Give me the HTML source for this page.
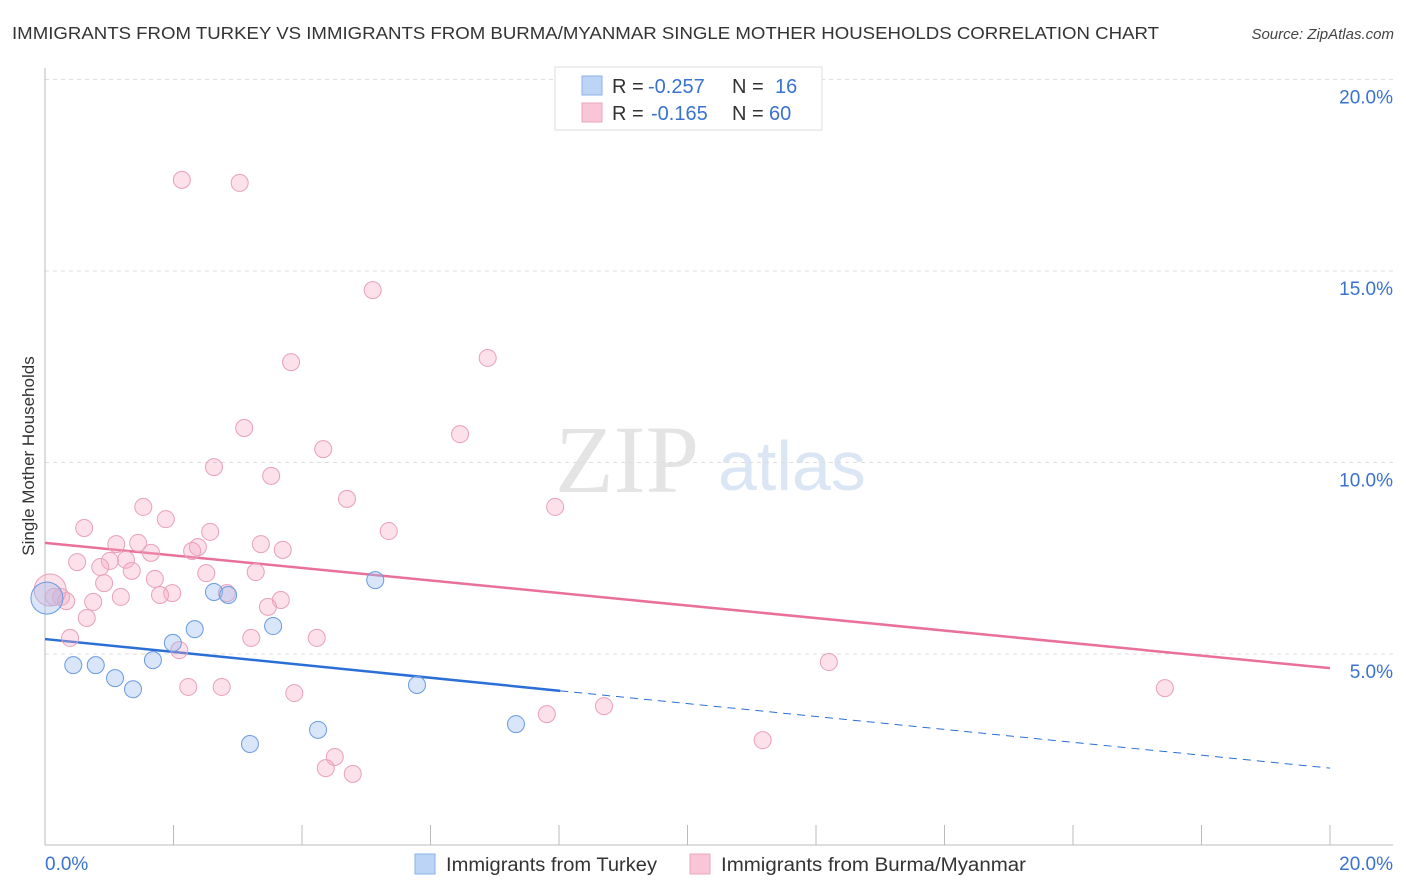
<!DOCTYPE html>
<html><head><meta charset="utf-8"><style>
body{margin:0;background:#fff;font-family:"Liberation Sans",sans-serif;}
svg{display:block}
</style></head><body>
<svg id="chart" width="1406" height="892" xmlns="http://www.w3.org/2000/svg">
<text x="12" y="39" font-size="17.5" fill="#333" textLength="1147" lengthAdjust="spacingAndGlyphs">IMMIGRANTS FROM TURKEY VS IMMIGRANTS FROM BURMA/MYANMAR SINGLE MOTHER HOUSEHOLDS CORRELATION CHART</text>
<text x="1394" y="39" font-size="15" fill="#444" text-anchor="end" font-style="italic">Source: ZipAtlas.com</text>
<text x="555" y="492" font-size="96" font-family="Liberation Serif,serif" fill="#e4e4e4">ZIP</text>
<text x="718" y="490" font-size="70" fill="#dbe6f5">atlas</text>
<text transform="translate(34,456) rotate(-90)" font-size="17" fill="#333" text-anchor="middle">Single Mother Households</text>
<g id="grid"></g><g id="axes"></g><g id="lines"></g><g id="pts"></g>
<g font-size="20">
<rect x="555" y="67" width="267" height="63" fill="#fff" stroke="#ddd"/>
<rect x="582" y="76" width="20" height="19" fill="#bcd4f6" stroke="#8ab0e6"/>
<rect x="582" y="103" width="20" height="19" fill="#f8c6d6" stroke="#eca5bd"/>
<text x="612" y="93" fill="#333">R =</text><text x="648" y="93" fill="#3a72d0">-0.257</text>
<text x="732" y="93" fill="#333">N =</text><text x="775" y="93" fill="#3a72d0">16</text>
<text x="612" y="120" fill="#333">R =</text><text x="651" y="120" fill="#3a72d0">-0.165</text>
<text x="732" y="120" fill="#333">N =</text><text x="769" y="120" fill="#3a72d0">60</text>
</g>
<g>
<rect x="415" y="854" width="20" height="20" fill="#bcd4f6" stroke="#8ab0e6"/>
<text x="446" y="871" font-size="19" fill="#333" textLength="211" lengthAdjust="spacingAndGlyphs">Immigrants from Turkey</text>
<rect x="690" y="854" width="20" height="20" fill="#f8c6d6" stroke="#eca5bd"/>
<text x="721" y="871" font-size="19" fill="#333" textLength="305" lengthAdjust="spacingAndGlyphs">Immigrants from Burma/Myanmar</text>
</g>
</svg>
<script>
const blueX=[0.03,0.44,0.79,1.09,1.37,1.68,1.99,2.33,2.63,2.85,3.19,3.55,4.25,5.14,5.79,7.33];
const blueY=[6.46,4.71,4.71,4.37,4.08,4.84,5.29,5.65,6.62,6.54,2.65,5.73,3.02,6.93,4.19,3.17];
const pinkX=[2.13,3.03,5.10,3.83,6.89,3.10,6.46,4.33,2.63,3.52,4.70,7.94,1.53,1.88,0.61,2.57,5.35,1.11,1.45,3.36,2.38,3.70,2.29,1.65,0.50,1.26,1.01,0.86,1.35,2.51,3.28,1.71,0.92,2.83,1.98,1.79,1.18,0.25,0.14,0.33,0.75,3.67,3.47,0.65,0.39,3.21,4.23,2.09,12.20,2.23,2.75,3.88,17.43,8.70,7.81,11.17,4.51,4.37,4.79,0.08];
const pinkY=[17.38,17.30,14.50,12.62,12.73,10.90,10.74,10.35,9.88,9.65,9.05,8.84,8.84,8.52,8.29,8.19,8.21,7.87,7.90,7.87,7.79,7.72,7.69,7.64,7.40,7.46,7.43,7.27,7.17,7.11,7.14,6.96,6.85,6.59,6.59,6.54,6.49,6.49,6.49,6.38,6.36,6.41,6.23,5.94,5.42,5.42,5.42,5.10,4.79,4.14,4.14,3.98,4.11,3.64,3.43,2.75,2.31,2.02,1.87,6.67];
const blueTrend=[5.39,2.02], pinkTrend=[7.90,4.63], blueSolidEnd=8.02;
const yTicks=[5,10,15,20], yTickLabels=["5.0%","10.0%","15.0%","20.0%"];
const NS="http://www.w3.org/2000/svg";
const X=v=>45+v/20*1285, Y=v=>845.5-v/5*191.5;
function mk(p,t,a){const e=document.createElementNS(NS,t);for(const k in a)e.setAttribute(k,a[k]);document.getElementById(p).appendChild(e);return e;}
yTicks.forEach((t,i)=>{
 const l=mk('grid','line',{x1:45,x2:1393,y1:Y(t),y2:Y(t),stroke:'#ddd','stroke-dasharray':'4,4'});
 
 
 const tx=mk('grid','text',{x:1393,y:Y(t)+24,'font-size':19,fill:'#3a72d0','text-anchor':'end'});
 tx.textContent=yTickLabels[i];
 
 
});
mk('axes','line',{x1:45,x2:45,y1:68,y2:845,stroke:'#bbb'});
mk('axes','line',{x1:45,x2:1393,y1:845,y2:845,stroke:'#bbb'});
for(let i=0;i<=10;i++){const t=mk('axes','line',{x1:X(i*2),x2:X(i*2),y1:825,y2:845,stroke:'#bbb'});
 
 }
const xl0=mk('axes','text',{x:45,y:870,'font-size':19,fill:'#3a72d0'});xl0.textContent='0.0%';


const xl1=mk('axes','text',{x:1393,y:870,'font-size':19,fill:'#3a72d0','text-anchor':'end'});xl1.textContent='20.0%';


function ty(tr,x){return tr[0]+(tr[1]-tr[0])*x/20;}
let l=mk('lines','line',{x1:X(0),y1:Y(ty(pinkTrend,0)),x2:X(20),y2:Y(ty(pinkTrend,20)),stroke:'#e8709a','stroke-width':2.5});


l=mk('lines','line',{x1:X(0),y1:Y(ty(blueTrend,0)),x2:X(blueSolidEnd),y2:Y(ty(blueTrend,blueSolidEnd)),stroke:'#2a6fd6','stroke-width':2.5});


l=mk('lines','line',{x1:X(blueSolidEnd),y1:Y(ty(blueTrend,blueSolidEnd)),x2:X(20),y2:Y(ty(blueTrend,20)),stroke:'#2a6fd6','stroke-width':1,'stroke-dasharray':'8,6'});


pinkX.forEach((x,i)=>{const c=mk('pts','circle',{cx:X(x),cy:Y(pinkY[i]),r:i==59?16:8.5,fill:'rgba(245,170,195,0.35)',stroke:'#e8a0b8','stroke-width':1});
 
 });
blueX.forEach((x,i)=>{const c=mk('pts','circle',{cx:X(x),cy:Y(blueY[i]),r:i==0?16:8.5,fill:'rgba(160,190,240,0.4)',stroke:'#6a9be0','stroke-width':1});
 
 });
</script>
</body></html>
